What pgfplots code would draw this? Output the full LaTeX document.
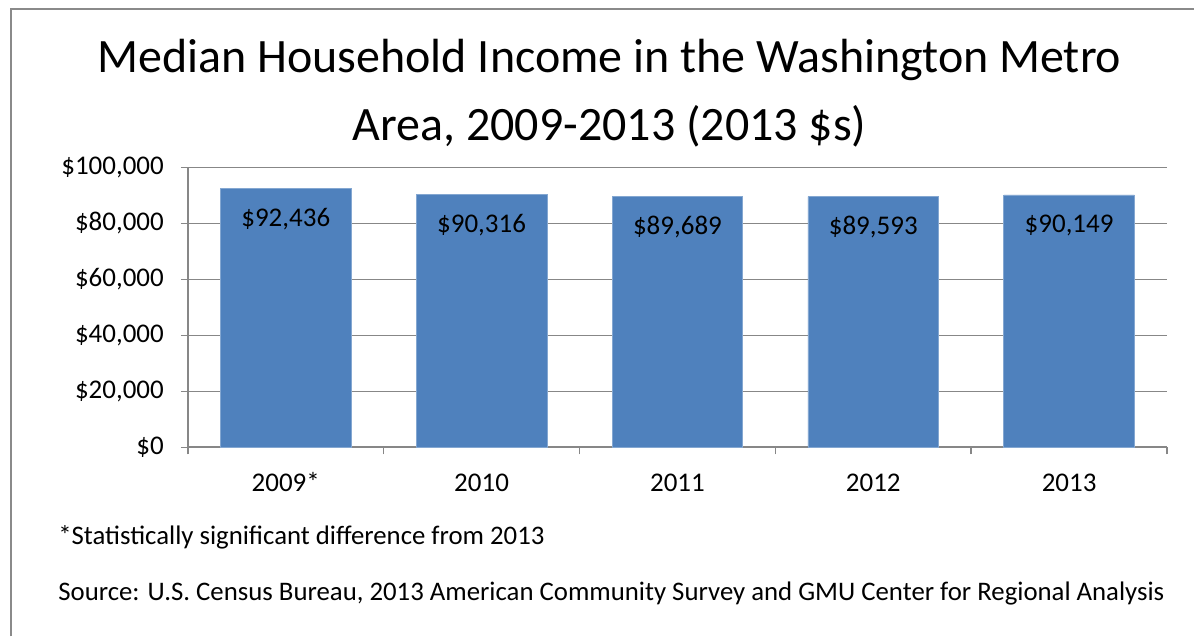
\documentclass[border=0pt]{standalone}
\usepackage{pgfplots}
\pgfplotsset{compat=1.18}
\usepackage{fontspec}
\setmainfont{Carlito}
\definecolor{barblue}{HTML}{4F81BD}
\definecolor{gridgray}{HTML}{878787}
\definecolor{framegray}{HTML}{8A8A8A}
\begin{document}
\begin{tikzpicture}
\path (0,0) rectangle (597.5pt,-318.5pt);
\draw[framegray, line width=1pt] (5.5pt,-318.5pt) -- (5.5pt,-4.5pt) -- (597.5pt,-4.5pt);
\node[anchor=base, font=\fontsize{24}{28}\selectfont, inner sep=0pt] at (305pt,-36.5pt) {Median Household Income in the Washington Metro};
\node[anchor=base, font=\fontsize{24}{28}\selectfont, inner sep=0pt] at (305pt,-70.5pt) {Area, 2009-2013 (2013 \$s)};
\node[anchor=base west, font=\fontsize{13.4}{16}\selectfont, inner sep=0pt] at (29pt,-272.5pt) {*Statistically significant difference from 2013};
\node[anchor=base west, font=\fontsize{13.4}{16}\selectfont, inner sep=0pt] at (29pt,-300.5pt) {Source: U.S. Census Bureau, 2013 American Community Survey and GMU Center for Regional Analysis};
\begin{axis}[
  at={(94pt,-223.85pt)}, anchor=south west,
  scale only axis, width=490pt, height=140.1pt,
  xmin=-0.5, xmax=4.5, ymin=0, ymax=100000,
  axis x line=bottom, axis y line=left, axis line style={-, gridgray, line width=0.9pt},
  ymajorgrids, grid style={gridgray, line width=0.7pt},
  tick align=outside, major tick length=3.5pt,
  tick style={gridgray, line width=0.7pt},
  xtick={-0.5,0.5,...,4.5}, x tick label as interval,
  xticklabels={2009*,2010,2011,2012,2013},
  scaled y ticks=false,
  ytick={0,20000,40000,60000,80000,100000},
  yticklabels={{\$0},{\$20,000},{\$40,000},{\$60,000},{\$80,000},{\$100,000}},
  tick label style={font=\fontsize{13.5}{16}\selectfont},
  yticklabel style={xshift=-5pt},
  xticklabel style={text height=1.6ex, yshift=-7.5pt},
  point meta=explicit symbolic,
  nodes near coords,
  every node near coord/.append style={anchor=center, yshift=-15.5pt, font=\fontsize{13.5}{16}\selectfont, black},
]
\addplot[ybar, bar width=0.667, fill=barblue, draw=barblue!70!white] coordinates {
  (0,92436) [\$92,436]
  (1,90316) [\$90,316]
  (2,89689) [\$89,689]
  (3,89593) [\$89,593]
  (4,90149) [\$90,149]
};
\end{axis}
\end{tikzpicture}
\end{document}
